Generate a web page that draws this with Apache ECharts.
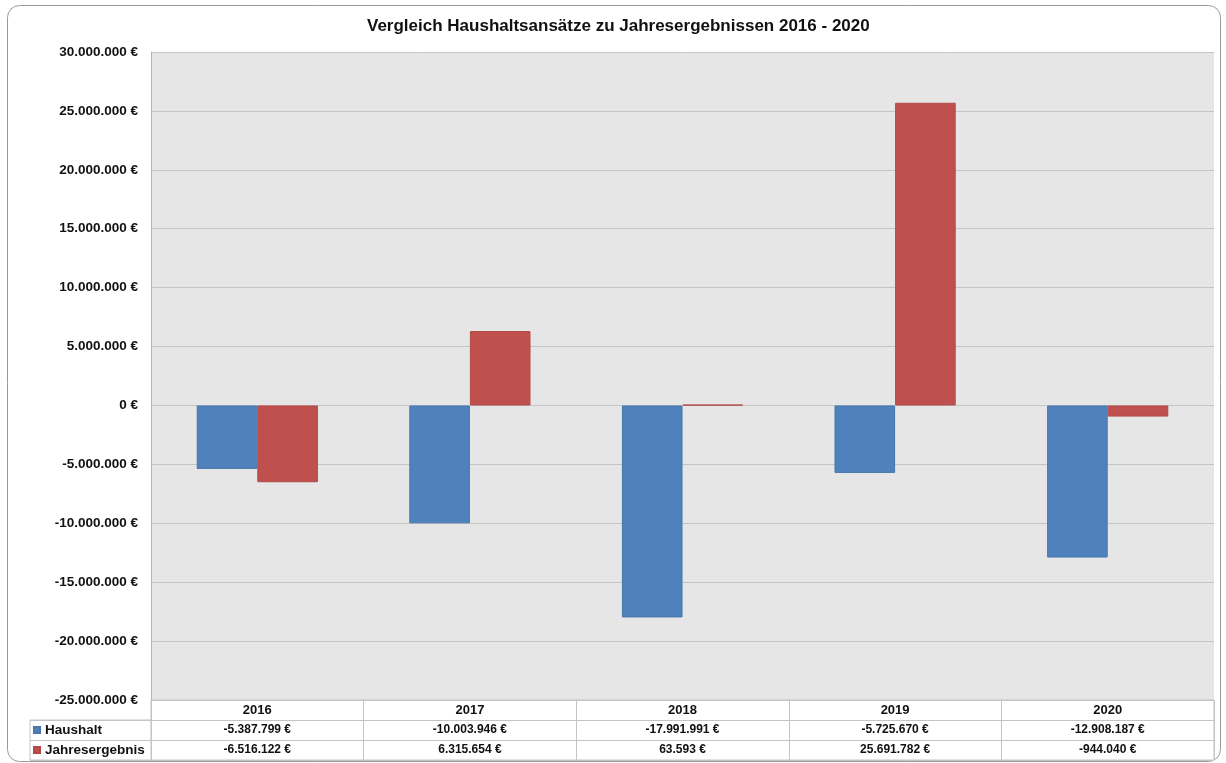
<!DOCTYPE html>
<html>
<head>
<meta charset="utf-8">
<script src="https://cdn.jsdelivr.net/npm/echarts@6/dist/echarts.min.js"></script>
<style>
  html, body { margin: 0; padding: 0; background: #fff; }
  #chart { width: 1226px; height: 763px; }
</style>
</head>
<body>
<div id="chart"></div>
<script>
  // Jahre und Werte aus dem Diagramm
  var years = ['2016', '2017', '2018', '2019', '2020'];
  var haushalt = [-5387799, -10003946, -17991991, -5725670, -12908187];
  var jahresergebnis = [-6516122, 6315654, 63593, 25691782, -944040];
  var seriesNames = ['Haushalt', 'Jahresergebnis'];
  var tableRows = ['', 'Haushalt', 'Jahresergebnis'];

  var FONT = '"Liberation Sans", Arial, sans-serif';

  // 1234567 -> "1.234.567 €"
  function euro(v) {
    var s = Math.abs(v).toString().replace(/\B(?=(\d{3})+(?!\d))/g, '.');
    return (v < 0 ? '-' : '') + s + ' €';
  }

  var chart = echarts.init(document.getElementById('chart'));

  var option = {
    animation: false,
    color: ['#4f81bd', '#c0504d'],
    textStyle: {fontFamily: FONT},
    title: {
      text: 'Vergleich Haushaltsansätze zu Jahresergebnissen 2016 - 2020',
      left: 367,
      top: 18,
      padding: 0,
      textStyle: {fontFamily: FONT, fontSize: 17, fontWeight: 'bold', color: '#111'}
    },
    legend: {
      data: seriesNames,
      orient: 'vertical',
      left: 33,
      top: 722,
      padding: 0,
      itemGap: 4,
      icon: 'rect',
      itemWidth: 6,
      itemHeight: 6,
      selectedMode: false,
      textStyle: {fontFamily: FONT, fontSize: 13.5, lineHeight: 16, fontWeight: 'bold', color: '#111'}
    },
    grid: [
      // Diagrammfläche
      {left: 151, right: 12, top: 52, bottom: 63, show: true, backgroundColor: '#e6e6e6', borderWidth: 0},
      // Datentabelle
      {left: 151, right: 12, top: 700, height: 60, show: true, backgroundColor: '#fff', borderColor: '#c4c4c4', borderWidth: 1},
      // Legendenspalte
      {left: 30, width: 121, top: 720, height: 40, show: true, backgroundColor: '#fff', borderColor: '#c4c4c4', borderWidth: 1}
    ],
    xAxis: [
      {
        gridIndex: 0,
        type: 'category',
        data: years,
        axisLine: {show: false},
        axisTick: {show: false},
        axisLabel: {
          interval: 0,
          margin: 0,
          lineHeight: 20,
          fontFamily: FONT,
          fontSize: 12,
          fontWeight: 'bold',
          color: '#111',
          formatter: function (val, i) {
            return '{y|' + val + '}\n' + euro(haushalt[i]) + '\n' + euro(jahresergebnis[i]);
          },
          rich: {
            y: {fontFamily: FONT, fontSize: 13, fontWeight: 'bold', color: '#111', lineHeight: 20}
          }
        }
      },
      {
        gridIndex: 1,
        type: 'category',
        data: years,
        axisLine: {show: false},
        axisTick: {show: false},
        axisLabel: {show: false},
        splitLine: {show: true, interval: 0, lineStyle: {color: '#c4c4c4'}}
      },
      {
        gridIndex: 2,
        type: 'category',
        data: [''],
        axisLine: {show: false},
        axisTick: {show: false},
        axisLabel: {show: false}
      }
    ],
    yAxis: [
      {
        gridIndex: 0,
        type: 'value',
        min: -25000000,
        max: 30000000,
        interval: 5000000,
        axisLine: {show: true, lineStyle: {color: '#b4b4b4'}},
        axisTick: {show: false},
        axisLabel: {
          margin: 13,
          fontFamily: FONT,
          fontSize: 13.5,
          fontWeight: 'bold',
          color: '#111',
          formatter: euro
        },
        splitLine: {show: true, lineStyle: {color: '#c4c4c4'}}
      },
      {
        gridIndex: 1,
        type: 'category',
        inverse: true,
        data: tableRows,
        axisLine: {show: false},
        axisTick: {show: false},
        axisLabel: {show: false},
        splitLine: {show: true, interval: 0, lineStyle: {color: '#c4c4c4'}}
      },
      {
        gridIndex: 2,
        type: 'category',
        inverse: true,
        data: seriesNames,
        axisLine: {show: false},
        axisTick: {show: false},
        axisLabel: {show: false},
        splitLine: {show: true, interval: 0, lineStyle: {color: '#c4c4c4'}}
      }
    ],
    series: [
      {
        name: 'Haushalt',
        type: 'bar',
        xAxisIndex: 0,
        yAxisIndex: 0,
        data: haushalt,
        barGap: '0%',
        barCategoryGap: '43%',
        itemStyle: {color: '#4f81bd', borderColor: '#4876ad', borderWidth: 1}
      },
      {
        name: 'Jahresergebnis',
        type: 'bar',
        xAxisIndex: 0,
        yAxisIndex: 0,
        data: jahresergebnis,
        barGap: '0%',
        barCategoryGap: '43%',
        itemStyle: {color: '#c0504d', borderColor: '#b04a47', borderWidth: 1}
      }
    ],
    graphic: [
      // abgerundeter Rahmen ums Diagramm
      {
        type: 'rect',
        silent: true,
        z: -1,
        shape: {x: 7.5, y: 5.5, width: 1213, height: 756, r: 12},
        style: {fill: 'none', stroke: '#9a9a9a', lineWidth: 1}
      }
    ]
  };

  chart.setOption(option);
</script>
</body>
</html>
